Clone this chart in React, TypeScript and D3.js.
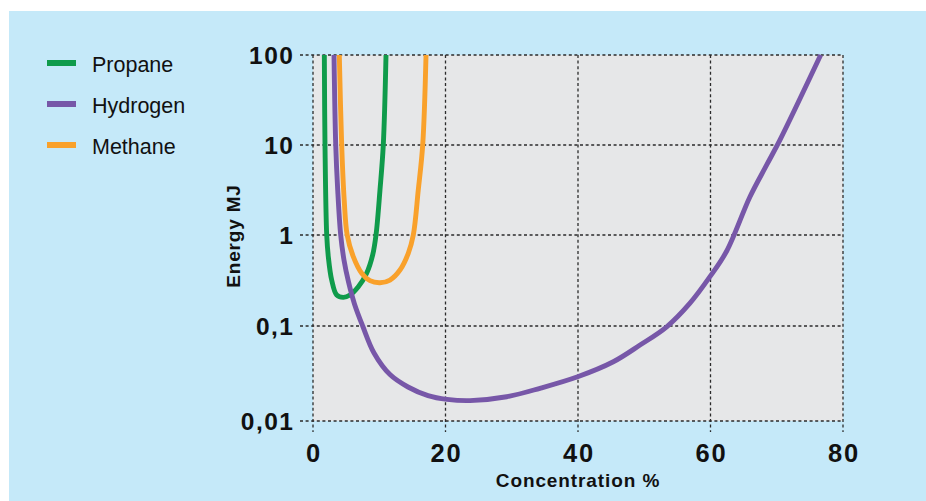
import React from 'react';
import * as d3 from 'd3';

const { scaleLinear, scaleLog, line, curveCatmullRom } = d3;

// concentration %, energy MJ
const propane: [number, number][] = [
  [1.71, 100], [1.81, 10], [2.07, 1], [2.31, 0.578], [2.82, 0.32], [3.58, 0.219],
  [4.57, 0.2065], [5.58, 0.219], [6.84, 0.27], [8.1, 0.38], [9.0, 0.6], [9.51, 1],
  [10.11, 3.16], [10.61, 10], [11.02, 100],
];
const hydrogen: [number, number][] = [
  [3.17, 100], [3.43, 10], [3.73, 3.16], [4.18, 1], [4.68, 0.53], [5.36, 0.305],
  [6.26, 0.175], [7.5, 0.1], [9.21, 0.052], [11.62, 0.0308], [14.34, 0.0228],
  [17.36, 0.0185], [20.23, 0.0169], [23.7, 0.0164], [29.24, 0.018], [34.26, 0.0221],
  [39.95, 0.0292], [45.33, 0.042], [49.36, 0.063], [53.39, 0.098], [56.9, 0.178],
  [59.92, 0.348], [62.45, 0.667], [65.96, 2.66], [68.48, 6.0], [70.49, 11.4],
  [76.63, 100],
];
const methane: [number, number][] = [
  [3.97, 100], [4.33, 10], [4.71, 2.45], [5.16, 1], [6.08, 0.578], [7.35, 0.38],
  [8.6, 0.315], [10.11, 0.299], [11.62, 0.32], [13.13, 0.412], [14.38, 0.63],
  [15.14, 1], [15.89, 3.16], [16.56, 10], [17.06, 100],
];

const seriesNames = ['Propane', 'Hydrogen', 'Methane'];
const seriesColors = ['#0f9b4b', '#7757a8', '#f9a12b'];
const seriesData = [propane, hydrogen, methane];

const xTicks = [0, 20, 40, 60, 80];
const yTicks = [0.01, 0.1, 1, 10, 100];
const yTickLabels = ['0,01', '0,1', '1', '10', '100'];

const W = 926;
const H = 501;
const plot = { left: 313, right: 843, top: 55, bottom: 421 };

export default function App() {
  const x = scaleLinear().domain([0, 80]).range([plot.left, plot.right]);
  // the printed decades are not quite evenly spaced, so map each one
  const y = scaleLog().domain(yTicks).range([plot.bottom, 326, 235, 145, plot.top]);
  const lineGen = line<[number, number]>()
    .x(d => x(d[0]))
    .y(d => y(d[1]))
    .curve(curveCatmullRom.alpha(0.5));

  const font = '"Liberation Sans", Arial, sans-serif';

  return (
    <svg
      width={W}
      height={H}
      style={{ position: 'absolute', left: 0, top: 0, display: 'block' }}
      fontFamily={font}
    >
      <rect x={0} y={0} width={W} height={H} fill="#ffffff" />
      <rect x={9} y={11} width={W - 9} height={H - 11} fill="#c5e9f9" />
      <rect
        x={plot.left}
        y={plot.top}
        width={plot.right - plot.left}
        height={plot.bottom - plot.top}
        fill="#e6e7e8"
      />
      <defs>
        <clipPath id="plotClip">
          <rect x={plot.left} y={plot.top - 1} width={plot.right - plot.left} height={plot.bottom - plot.top + 1} />
        </clipPath>
      </defs>

      {/* grid */}
      <g stroke="#2b2b2b" strokeWidth={1.3} strokeDasharray="3 2.6" fill="none">
        {yTicks.map(t => (
          <line key={'h' + t} x1={300} x2={plot.right} y1={y(t)} y2={y(t)} />
        ))}
        {xTicks.map(t => (
          <line key={'v' + t} x1={x(t)} x2={x(t)} y1={plot.top} y2={432} />
        ))}
      </g>

      {/* curves */}
      <g clipPath="url(#plotClip)" fill="none" strokeWidth={4.9} strokeLinejoin="round">
        {seriesData.map((d, i) => (
          <path key={seriesNames[i]} d={lineGen(d) || ''} stroke={seriesColors[i]} />
        ))}
      </g>

      {/* y tick labels */}
      {yTicks.map((t, i) => (
        <text
          key={'yl' + t}
          x={294.5}
          y={y(t) + 9}
          textAnchor="end"
          fontSize={24.5}
          fontWeight="bold"
          letterSpacing={1.5}
          fill="#111"
        >
          {yTickLabels[i]}
        </text>
      ))}

      {/* x tick labels */}
      {xTicks.map(t => (
        <text
          key={'xl' + t}
          x={x(t) + 0.9}
          y={462}
          textAnchor="middle"
          fontSize={25.5}
          fontWeight="bold"
          letterSpacing={1.8}
          fill="#111"
        >
          {t}
        </text>
      ))}

      <text
        transform={`translate(240,236) rotate(-90)`}
        textAnchor="middle"
        fontSize={19}
        fontWeight="bold"
        letterSpacing={0.8}
        fill="#111"
      >
        Energy MJ
      </text>
      <text x={578} y={487} textAnchor="middle" fontSize={19} fontWeight="bold" letterSpacing={0.9} fill="#111">
        Concentration %
      </text>

      {/* legend */}
      {seriesNames.map((name, i) => (
        <g key={'lg' + name} transform={`translate(0,${63 + i * 41})`}>
          <line x1={47} x2={76} y1={0} y2={0} stroke={seriesColors[i]} strokeWidth={6} />
          <text x={92} y={8.5} fontSize={21.5} fill="#111">
            {name}
          </text>
        </g>
      ))}
    </svg>
  );
}
